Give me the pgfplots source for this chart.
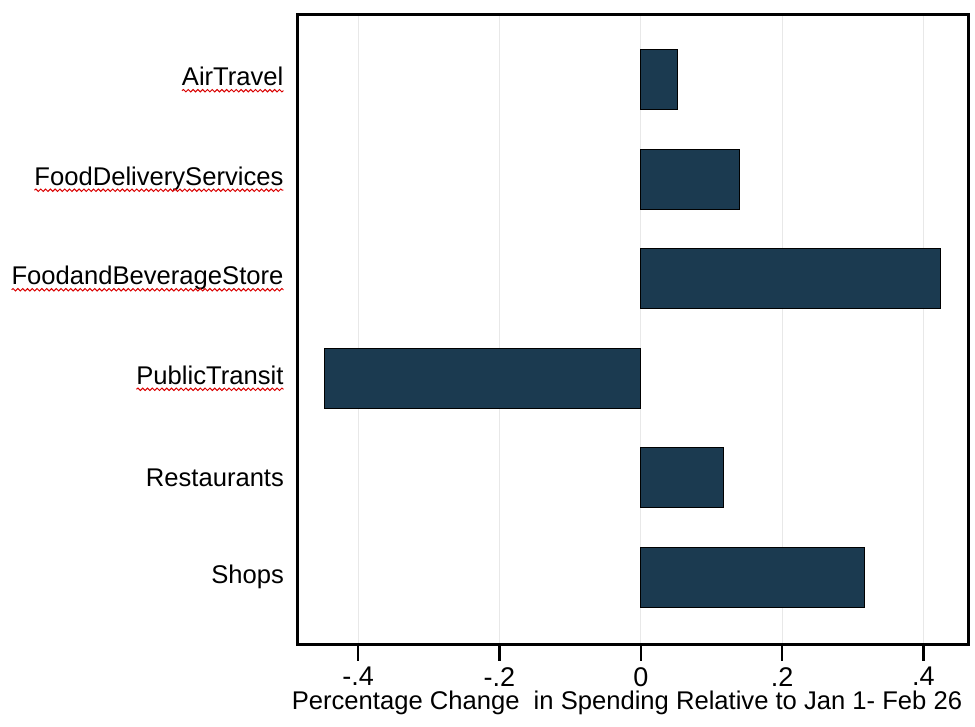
\documentclass[border=0pt]{standalone}
\usepackage{fontspec}
\setmainfont{Liberation Sans}
\usepackage{pgfplots}
\pgfplotsset{compat=1.18}
\usetikzlibrary{decorations.pathmorphing}
\definecolor{barc}{HTML}{1B3A50}
\newsavebox\bA\newsavebox\bB\newsavebox\bC\newsavebox\bD
\newcommand{\mksq}[2]{\sbox#1{\fontsize{12.8}{15}\selectfont\tikz[baseline=(t.base)]{\node[inner sep=0pt,outer sep=0pt](t){#2};\draw[red!85!black,line width=0.5pt,decorate,decoration={snake,amplitude=0.6pt,segment length=2.4pt}]([yshift=-2.6pt]t.base west)--([yshift=-2.6pt]t.base east);}}}
\begin{document}
\mksq\bA{AirTravel}\mksq\bB{FoodDeliveryServices}\mksq\bC{FoodandBeverageStore}\mksq\bD{PublicTransit}%
\begin{tikzpicture}
\useasboundingbox (-149pt,-41pt) rectangle (338.5pt,322.5pt);
\begin{axis}[
  at={(0pt,0pt)}, anchor=south west,
  scale only axis, width=335pt, height=315pt,
  xbar, bar width=30pt,
  xmin=-0.485, xmax=0.463,
  ymin=-0.68, ymax=5.65,
  xtick={-0.4,-0.2,0,0.2,0.4},
  xticklabels={-.4,-.2,0,.2,.4},
  ytick={0,1,2,3,4,5},
  yticklabels={Shops,Restaurants,\usebox\bD,\usebox\bC,\usebox\bB,\usebox\bA},
  tick align=outside,
  xtick pos=bottom, ytick pos=left,
  major tick length=8pt,
  x tick style={black, line width=1.2pt},
  y tick style={draw=none},
  axis line style={black, line width=1.5pt},
  xmajorgrids, grid style={gray!18, line width=0.5pt},
  ticklabel style={font=\fontsize{12.8}{15}\selectfont},
  yticklabel style={xshift=4.5pt},
  xticklabel style={inner sep=1pt, yshift=-2pt, font=\fontsize{13.5}{15}\selectfont},
  xlabel={Percentage Change\ \ in Spending Relative to Jan 1- Feb 26},
  xlabel style={font=\fontsize{12.8}{15}\selectfont, inner sep=1pt, yshift=0pt, xshift=-3pt},
]
\addplot[draw=black, line width=0.6pt, fill=barc] coordinates {
  (0.316,0) (0.117,1) (-0.448,2) (0.424,3) (0.140,4) (0.052,5)
};
\end{axis}
\end{tikzpicture}
\end{document}
